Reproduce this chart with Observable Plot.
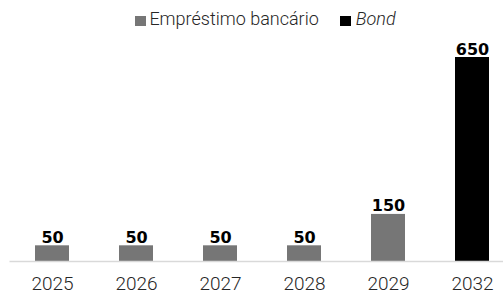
<!DOCTYPE html>
<html>
<head>
<meta charset="utf-8">
<script src="https://cdn.jsdelivr.net/npm/d3@7"></script>
<script src="https://cdn.jsdelivr.net/npm/@observablehq/plot@0.6"></script>
<style>
  html, body { margin: 0; padding: 0; background: #fff; width: 503px; height: 296px; overflow: hidden; }
  body { font-family: Roboto, "Noto Sans", sans-serif; position: relative; }
  #legend { position: absolute; left: 0; top: 0; width: 503px; height: 34px; display: flex; justify-content: center; align-items: flex-start; padding-left: 28px; box-sizing: border-box; font-size: 18px; font-weight: 300; color: #262626; }
  .item { display: flex; align-items: center; margin-top: 9px; line-height: 20px; }
  .sw { width: 11px; height: 10px; margin-right: 3px; margin-top: 3px; }
  .item + .item { margin-left: 21px; }
  .item + .item .sw { margin-right: 5px; }
  #chart { position: absolute; left: 0; top: 37px; width: 514px; }
  #chart svg { display: block; max-width: none !important; height: 259px !important; }
</style>
</head>
<body>
<div id="legend"></div>
<div id="chart"></div>
<script>
const years = ["2025", "2026", "2027", "2028", "2029", "2032"];
const values = [50, 50, 50, 50, 150, 650];
const types = ["Empréstimo bancário", "Empréstimo bancário", "Empréstimo bancário", "Empréstimo bancário", "Empréstimo bancário", "Bond"];
const seriesNames = ["Empréstimo bancário", "Bond"];
const seriesColors = ["#767676", "#000000"];

const data = years.map((y, i) => ({year: y, value: values[i], type: types[i]}));

// legend
const legend = document.getElementById("legend");
seriesNames.forEach((name, i) => {
  const it = document.createElement("div");
  it.className = "item";
  const sw = document.createElement("div");
  sw.className = "sw";
  sw.style.background = seriesColors[i];
  const tx = document.createElement("span");
  tx.textContent = name;
  if (name === "Bond") tx.style.fontStyle = "italic";
  it.appendChild(sw);
  it.appendChild(tx);
  legend.appendChild(it);
});

const chart = Plot.plot({
  width: 514,
  height: 259,
  marginLeft: 9.5,
  marginRight: 0,
  marginTop: 20,
  marginBottom: 35,
  style: {fontFamily: "Roboto, sans-serif", overflow: "visible", maxWidth: "none"},
  x: {domain: years, paddingInner: 0.6, paddingOuter: 0.3, label: null},
  y: {domain: [0, 650], axis: null},
  color: {domain: seriesNames, range: seriesColors},
  marks: [
    Plot.barY(data, {x: "year", y: "value", fill: "type"}),
    Plot.ruleY([0], {stroke: "#d9d9d9", strokeWidth: 1.5}),
    Plot.text(data, {x: "year", y: "value", text: d => String(d.value), lineAnchor: "bottom", dy: -3, fontSize: 16, fontWeight: 700, fontFamily: "DejaVu Sans", fill: "#000"}),
    Plot.axisX({tickSize: 0, tickPadding: 15, fontSize: 19, fontWeight: 300, fill: "#262626", label: null})
  ]
});
document.getElementById("chart").appendChild(chart);
</script>
</body>
</html>
